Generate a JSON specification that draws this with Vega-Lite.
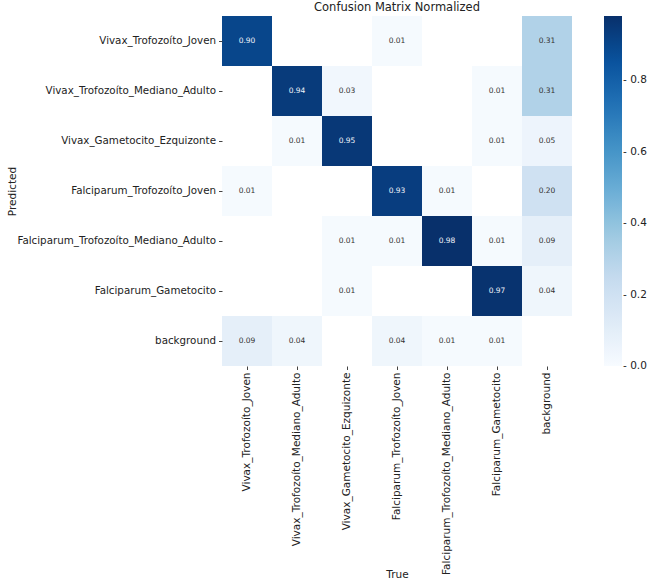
{
  "$schema": "https://vega.github.io/schema/vega-lite/v6.json",
  "autosize": "none",
  "padding": {"left": 222, "top": 16, "right": 78, "bottom": 222},
  "width": 350,
  "height": 350,
  "background": "white",
  "config": {
    "font": "DejaVu Sans",
    "view": {"stroke": null},
    "axis": {"labelFont": "DejaVu Sans", "titleFont": "DejaVu Sans", "labelColor": "#222", "titleColor": "#222", "tickColor": "#444", "domain": false, "grid": false, "titleFontWeight": "normal"}
  },
  "title": {"text": "Confusion Matrix Normalized", "fontSize": 11.5, "fontWeight": "normal", "font": "DejaVu Sans", "color": "#222", "offset": 3},
  "data": {"values": [
    {"pred": "Vivax_Trofozoíto_Joven", "true": "Vivax_Trofozoíto_Joven", "v": 0.90},
    {"pred": "Vivax_Trofozoíto_Joven", "true": "Falciparum_Trofozoíto_Joven", "v": 0.01},
    {"pred": "Vivax_Trofozoíto_Joven", "true": "background", "v": 0.31},
    {"pred": "Vivax_Trofozoíto_Mediano_Adulto", "true": "Vivax_Trofozoíto_Mediano_Adulto", "v": 0.94},
    {"pred": "Vivax_Trofozoíto_Mediano_Adulto", "true": "Vivax_Gametocito_Ezquizonte", "v": 0.03},
    {"pred": "Vivax_Trofozoíto_Mediano_Adulto", "true": "Falciparum_Gametocito", "v": 0.01},
    {"pred": "Vivax_Trofozoíto_Mediano_Adulto", "true": "background", "v": 0.31},
    {"pred": "Vivax_Gametocito_Ezquizonte", "true": "Vivax_Trofozoíto_Mediano_Adulto", "v": 0.01},
    {"pred": "Vivax_Gametocito_Ezquizonte", "true": "Vivax_Gametocito_Ezquizonte", "v": 0.95},
    {"pred": "Vivax_Gametocito_Ezquizonte", "true": "Falciparum_Gametocito", "v": 0.01},
    {"pred": "Vivax_Gametocito_Ezquizonte", "true": "background", "v": 0.05},
    {"pred": "Falciparum_Trofozoíto_Joven", "true": "Vivax_Trofozoíto_Joven", "v": 0.01},
    {"pred": "Falciparum_Trofozoíto_Joven", "true": "Falciparum_Trofozoíto_Joven", "v": 0.93},
    {"pred": "Falciparum_Trofozoíto_Joven", "true": "Falciparum_Trofozoíto_Mediano_Adulto", "v": 0.01},
    {"pred": "Falciparum_Trofozoíto_Joven", "true": "background", "v": 0.20},
    {"pred": "Falciparum_Trofozoíto_Mediano_Adulto", "true": "Vivax_Gametocito_Ezquizonte", "v": 0.01},
    {"pred": "Falciparum_Trofozoíto_Mediano_Adulto", "true": "Falciparum_Trofozoíto_Joven", "v": 0.01},
    {"pred": "Falciparum_Trofozoíto_Mediano_Adulto", "true": "Falciparum_Trofozoíto_Mediano_Adulto", "v": 0.98},
    {"pred": "Falciparum_Trofozoíto_Mediano_Adulto", "true": "Falciparum_Gametocito", "v": 0.01},
    {"pred": "Falciparum_Trofozoíto_Mediano_Adulto", "true": "background", "v": 0.09},
    {"pred": "Falciparum_Gametocito", "true": "Vivax_Gametocito_Ezquizonte", "v": 0.01},
    {"pred": "Falciparum_Gametocito", "true": "Falciparum_Gametocito", "v": 0.97},
    {"pred": "Falciparum_Gametocito", "true": "background", "v": 0.04},
    {"pred": "background", "true": "Vivax_Trofozoíto_Joven", "v": 0.09},
    {"pred": "background", "true": "Vivax_Trofozoíto_Mediano_Adulto", "v": 0.04},
    {"pred": "background", "true": "Falciparum_Trofozoíto_Joven", "v": 0.04},
    {"pred": "background", "true": "Falciparum_Trofozoíto_Mediano_Adulto", "v": 0.01},
    {"pred": "background", "true": "Falciparum_Gametocito", "v": 0.01}
  ]},
  "encoding": {
    "x": {"field": "true", "type": "nominal", "title": "True",
      "scale": {"domain": ["Vivax_Trofozoíto_Joven", "Vivax_Trofozoíto_Mediano_Adulto", "Vivax_Gametocito_Ezquizonte", "Falciparum_Trofozoíto_Joven", "Falciparum_Trofozoíto_Mediano_Adulto", "Falciparum_Gametocito", "background"], "paddingInner": 0, "paddingOuter": 0},
      "axis": {"labelAngle": -90, "labelAlign": "right", "labelBaseline": "middle", "labelFontSize": 10.5, "titleFontSize": 10.5, "tickSize": 3.5, "labelPadding": 2.5, "titlePadding": 3, "labelLimit": 0}},
    "y": {"field": "pred", "type": "nominal", "title": "Predicted",
      "scale": {"domain": ["Vivax_Trofozoíto_Joven", "Vivax_Trofozoíto_Mediano_Adulto", "Vivax_Gametocito_Ezquizonte", "Falciparum_Trofozoíto_Joven", "Falciparum_Trofozoíto_Mediano_Adulto", "Falciparum_Gametocito", "background"], "paddingInner": 0, "paddingOuter": 0},
      "axis": {"labelFontSize": 10.3, "titleFontSize": 10.5, "tickSize": 3.5, "labelPadding": 3, "titlePadding": 5, "labelLimit": 0}}
  },
  "layer": [
    {"mark": {"type": "rect"},
     "encoding": {"color": {"field": "v", "type": "quantitative",
       "scale": {"domain": [0, 0.1225, 0.245, 0.3675, 0.49, 0.6125, 0.735, 0.8575, 0.98], "range": ["#f7fbff", "#deebf7", "#c6dbef", "#9ecae1", "#6baed6", "#4292c6", "#2171b5", "#08519c", "#08306b"], "interpolate": "rgb"},
       "legend": {"title": null, "type": "gradient", "direction": "vertical", "orient": "none", "legendX": 382, "legendY": 0, "gradientLength": 350, "gradientThickness": 18, "gradientStrokeWidth": 0, "values": [0, 0.2, 0.4, 0.6, 0.8], "labelExpr": "'- ' + format(datum.value, '.1f')", "labelFontSize": 10.5, "labelFont": "DejaVu Sans", "labelColor": "#222", "labelBaseline": "middle", "labelOffset": 1, "labelOverlap": false, "padding": 0,
         "encode": {"labels": {"update": {"baseline": {"value": "middle"}}}}}}}},
    {"mark": {"type": "text", "fontSize": 7.5, "font": "DejaVu Sans"},
     "encoding": {
       "text": {"field": "v", "type": "quantitative", "format": ".2f"},
       "color": {"condition": {"test": "datum.v > 0.6", "value": "#f0f4fa"}, "value": "#333333"}}}
  ]
}
